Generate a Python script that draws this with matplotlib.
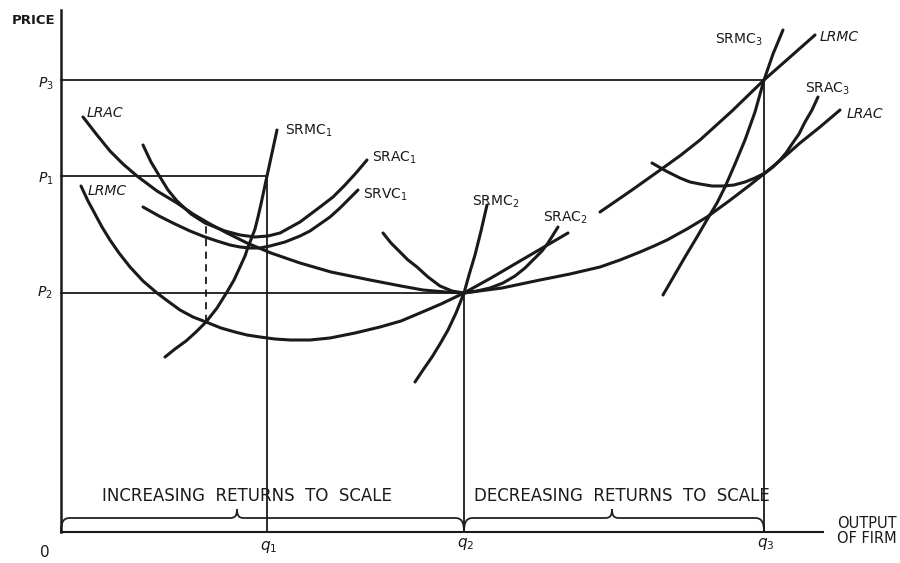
"""
Cost curves of a firm: short-run curves at three plant sizes against the
long-run average and marginal cost envelopes.
"""
import matplotlib
matplotlib.use("Agg")
import matplotlib.pyplot as plt
from matplotlib.path import Path
from matplotlib.patches import PathPatch

# price levels and outputs
p_levels = [356, 239, 452]          # P1, P2, P3
q_levels = [206, 403, 703]          # q1, q2, q3

# long run curves (output, price)
lrac_x = [22, 36, 49, 62, 76, 96, 116, 132, 149, 166, 186, 210, 239, 270, 309, 340, 362, 385, 403,
          441, 479, 509, 539, 559, 579, 593, 606, 626, 646, 668, 689, 704, 722, 739, 759, 779]
lrac_y = [415, 397, 381, 368, 356, 341, 329, 318, 308, 299, 289, 279, 269, 260, 252, 246, 242, 240, 239,
          244, 252, 258, 265, 272, 280, 286, 292, 303, 315, 331, 347, 359, 374, 389, 405, 422]

lrmc_x = [20, 27, 34, 41, 49, 58, 69, 82, 96, 108, 119, 132, 145, 160, 174, 186, 199, 214, 229, 249,
          269, 294, 319, 340, 359, 380, 403, 430, 459, 483, 507,
          539, 571, 602, 620, 639, 671, 703, 728, 754]
lrmc_y = [346, 331, 318, 305, 292, 279, 265, 251, 239, 230, 222, 215, 210, 204, 200, 197, 195, 193, 192, 192,
          194, 199, 205, 211, 219, 228, 239, 254, 271, 285, 299,
          320, 342, 364, 377, 392, 421, 452, 474, 497]
lrmc_gap = 31   # the line breaks under the SRAC2 label

# plant 1
srmc1_x = [104, 114, 125, 135, 145, 156, 166, 173, 179, 184, 187, 191, 194, 197, 200, 203, 206, 211, 216]
srmc1_y = [175, 183, 191, 200, 210, 224, 240, 252, 265, 276, 285, 295, 303, 315, 328, 342, 356, 379, 402]
srac1_x = [82, 90, 99, 107, 116, 130, 144, 154, 164, 179, 194, 207, 219, 239, 259, 272, 284, 295, 306]
srac1_y = [387, 370, 355, 342, 331, 318, 309, 305, 301, 297, 295, 296, 299, 310, 325, 335, 347, 359, 372]
srvc1_x = [82, 98, 114, 129, 144, 156, 169, 179, 189, 199, 209, 224, 239, 249, 259, 269, 279, 288, 297]
srvc1_y = [325, 316, 308, 301, 295, 291, 287, 285, 284, 284, 286, 290, 296, 301, 308, 315, 324, 333, 342]
dash_x = [145, 145]
dash_y = [210, 308]

# plant 2
srmc2_x = [354, 362, 371, 379, 387, 395, 403, 408, 414, 420, 426]
srmc2_y = [150, 162, 175, 188, 202, 219, 239, 257, 277, 301, 327]
srac2_x = [322, 330, 339, 347, 356, 367, 379, 391, 403, 416, 429, 442, 454, 464, 474, 481, 487, 492, 497]
srac2_y = [299, 289, 280, 272, 265, 255, 246, 241, 239, 241, 244, 249, 256, 264, 274, 281, 289, 297, 305]

# plant 3
srmc3_x = [602, 613, 624, 636, 647, 656, 664, 674, 684, 694, 703, 712, 722]
srmc3_y = [237, 256, 275, 295, 314, 329, 345, 368, 392, 420, 452, 478, 502]
srac3_x = [591, 605, 619, 629, 639, 651, 662, 673, 684, 694, 704, 712, 719, 725, 731, 738, 744, 751, 757]
srac3_y = [369, 361, 354, 350, 348, 346, 346, 347, 350, 354, 359, 365, 372, 379, 388, 398, 410, 422, 435]

# brace spans along the output axis
brace_from = [0, 403]
brace_to = [403, 703]
brace_tip = [176, 551]
brace_text = ["INCREASING  RETURNS  TO  SCALE", "DECREASING  RETURNS  TO  SCALE"]
brace_mid = [186, 561]


def brace(ax, x0, x1, xm, h=14, tip=23, r=9):
    verts = [(x0, 0),
             (x0, h * 0.75), (x0 + r * 0.3, h), (x0 + r, h),
             (xm - 7, h),
             (xm - 2, h), (xm, h + 2), (xm, tip),
             (xm, h + 2), (xm + 2, h), (xm + 7, h),
             (x1 - r, h),
             (x1 - r * 0.3, h), (x1, h * 0.75), (x1, 0)]
    codes = ([Path.MOVETO] + [Path.CURVE4] * 3 + [Path.LINETO]
             + [Path.CURVE4] * 6 + [Path.LINETO] + [Path.CURVE4] * 3)
    ax.add_patch(PathPatch(Path(verts, codes), fill=False, lw=1.3,
                           edgecolor="#222222", capstyle="round"))


def main():
    fig = plt.figure(figsize=(9, 5.63), dpi=100)
    ax = fig.add_axes([0, 0, 1, 1])
    ax.set_xlim(-61, 839)
    ax.set_ylim(-31, 532)
    ax.axis("off")

    ink = "#1a1a1a"
    thin = dict(color=ink, lw=1.3)
    thick = dict(color=ink, lw=2.2, solid_capstyle="round", solid_joinstyle="round")

    # axes
    ax.plot([0, 0], [0, 522], color=ink, lw=1.8)
    ax.plot([0, 762], [0, 0], color=ink, lw=1.5)

    # guides from the price and output levels
    for p, q in zip(p_levels, q_levels):
        ax.plot([0, q], [p, p], **thin)
        ax.plot([q, q], [0, p], **thin)
    ax.plot(dash_x, dash_y, color=ink, lw=1.3, ls=(0, (4, 3)))

    ax.plot(lrac_x, lrac_y, **thick)
    ax.plot(lrmc_x[:lrmc_gap], lrmc_y[:lrmc_gap], **thick)
    ax.plot(lrmc_x[lrmc_gap:], lrmc_y[lrmc_gap:], **thick)
    for xs, ys in [(srmc1_x, srmc1_y), (srac1_x, srac1_y), (srvc1_x, srvc1_y),
                   (srmc2_x, srmc2_y), (srac2_x, srac2_y),
                   (srmc3_x, srmc3_y), (srac3_x, srac3_y)]:
        ax.plot(xs, ys, **thick)

    for a, b, m, t, c in zip(brace_from, brace_to, brace_tip, brace_text, brace_mid):
        brace(ax, a, b, m)
        ax.text(c, 31, t, ha="center", va="baseline", fontsize=12, color=ink)

    lab = dict(fontsize=10, color=ink, va="baseline")
    ax.text(-49, 508, "PRICE", fontsize=9.5, fontweight="bold", color=ink, va="baseline")
    ax.text(-23, 444, r"$P_3$", **lab)
    ax.text(-23, 349, r"$P_1$", **lab)
    ax.text(-24, 235, r"$P_2$", **lab)
    ax.text(-21, -25, "0", fontsize=11, color=ink, va="baseline")
    ax.text(199, -18, r"$q_1$", fontsize=11, color=ink, va="baseline")
    ax.text(396, -15, r"$q_2$", fontsize=11, color=ink, va="baseline")
    ax.text(696, -15, r"$q_3$", fontsize=11, color=ink, va="baseline")
    ax.text(836, 4, "OUTPUT", ha="right", fontsize=10.5, color=ink, va="baseline")
    ax.text(836, -11, "OF FIRM", ha="right", fontsize=10.5, color=ink, va="baseline")

    ax.text(26, 415, "LRAC", style="italic", **lab)
    ax.text(27, 337, "LRMC", style="italic", **lab)
    ax.text(224, 397, r"SRMC$_1$", **lab)
    ax.text(311, 370, r"SRAC$_1$", **lab)
    ax.text(302, 333, r"SRVC$_1$", **lab)
    ax.text(411, 326, r"SRMC$_2$", **lab)
    ax.text(482, 310, r"SRAC$_2$", **lab)
    ax.text(654, 488, r"SRMC$_3$", **lab)
    ax.text(759, 491, "LRMC", style="italic", **lab)
    ax.text(744, 439, r"SRAC$_3$", **lab)
    ax.text(786, 414, "LRAC", style="italic", **lab)

    fig.savefig("out.png", dpi=100)


if __name__ == "__main__":
    main()
